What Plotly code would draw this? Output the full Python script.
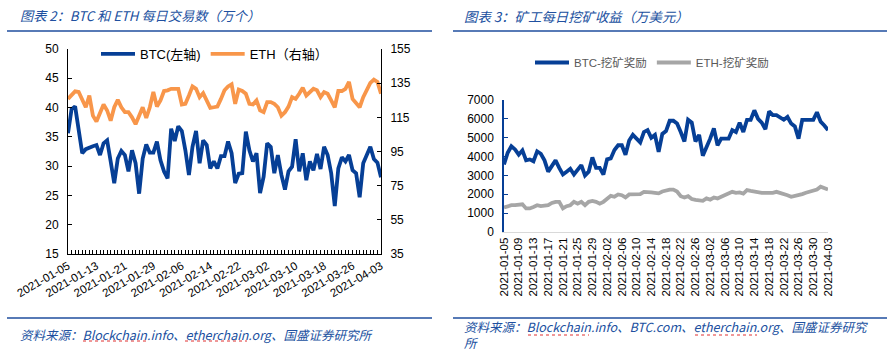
import pandas as pd
import plotly.graph_objects as go

# ---------------- data ----------------
start_date = "2021-01-05"
end_date = "2021-04-03"
dates = pd.date_range(start_date, end_date, freq="D")

btc_tx = [35.6, 39.7, 40.2, 36.4, 32.2, 32.9, 33.2, 33.4, 33.6, 31.9,
          33.9, 34.4, 30.8, 27.1, 31.3, 32.6, 31.9, 29.1, 32.7, 30.5,
          25.3, 31.3, 33.7, 32.3, 32.3, 34.2, 31.0, 29.1, 27.9, 36.4,
          34.3, 36.8, 36.0, 32.7, 28.5, 33.3, 36.0, 30.5, 34.4, 33.6,
          29.6, 30.8, 29.6, 31.7, 31.7, 34.2, 32.2, 27.1, 28.7, 28.8,
          35.9, 32.7, 30.8, 32.2, 25.4, 28.2, 33.9, 33.3, 28.8, 31.9,
          28.5, 26.0, 29.1, 29.9, 34.6, 29.1, 32.2, 27.6, 30.8, 29.3,
          32.1, 29.5, 33.3, 31.9, 28.8, 23.2, 29.6, 31.5, 30.8, 31.9,
          29.3, 28.8, 24.7, 30.5, 31.9, 33.3, 31.2, 30.6, 28.1]

eth_tx = [125.8, 127.8, 130.2, 129.8, 124.9, 120.9, 127.8, 116.0, 112.6, 117.0,
          122.5, 119.0, 113.0, 120.9, 125.2, 120.9, 118.0, 118.0, 115.0, 111.0,
          116.0, 120.9, 114.6, 120.9, 129.8, 121.3, 124.9, 130.4, 130.8, 131.7,
          131.7, 131.7, 122.5, 122.9, 127.8, 133.1, 131.7, 126.8, 129.2, 124.9,
          120.5, 120.9, 121.3, 125.8, 130.8, 133.1, 134.3, 122.9, 131.2, 130.4,
          128.8, 122.9, 122.5, 124.9, 119.0, 118.0, 123.9, 123.9, 122.9, 120.9,
          116.0, 118.0, 121.3, 126.8, 125.8, 128.8, 132.3, 127.8, 129.8, 131.7,
          130.8, 126.8, 129.8, 128.8, 124.9, 120.9, 130.4, 130.4, 131.7, 135.7,
          125.8, 122.9, 120.9, 126.8, 130.4, 135.1, 137.1, 135.7, 128.8]

btc_reward = [3580, 4200, 4550, 4380, 4100, 4330, 3800, 3850, 3750, 4280,
              4150, 3800, 3200, 3550, 3800, 3400, 3050, 3200, 3350, 3050,
              3300, 3550, 3000, 3200, 3950, 3400, 3400, 3050, 3850, 3900,
              4350, 4600, 4600, 4100, 4850, 5150, 4950, 4750, 5300, 5400,
              5000, 5150, 4250, 5200, 5350, 5900, 5900, 5750, 5300, 4800,
              5950, 5800, 4800, 5150, 4050, 4450, 4950, 5500, 4600, 4950,
              4950, 4950, 5400, 5300, 5800, 5300, 5950, 5950, 6450, 6000,
              5800, 5450, 6400, 6200, 6200, 6050, 5950, 6100, 5750, 5600,
              4950, 5950, 5950, 5950, 5950, 6350, 5850, 5650, 5400]

eth_reward = [1300, 1370, 1420, 1420, 1450, 1470, 1250, 1250, 1330, 1420,
              1370, 1420, 1420, 1540, 1600, 1600, 1250, 1370, 1420, 1600,
              1500, 1600, 1420, 1600, 1650, 1600, 1500, 1600, 1780, 1920,
              1870, 1990, 1950, 1830, 1990, 2010, 2010, 2010, 2130, 2130,
              2100, 2080, 2050, 2150, 2220, 2250, 2250, 2150, 1900, 1830,
              1900, 1750, 1700, 1650, 1650, 1780, 1720, 1830, 1780, 1870,
              1950, 2050, 2130, 2080, 2100, 2040, 2220, 2180, 2130, 2080,
              2080, 2080, 2080, 2080, 2130, 2080, 2040, 1950, 1870, 1900,
              1950, 2010, 2080, 2150, 2200, 2250, 2400, 2300, 2250]

title_left = "图表 2：BTC 和 ETH 每日交易数（万个）"
title_right = "图表 3：矿工每日挖矿收益（万美元）"
source_left = "资料来源：Blockchain.info、etherchain.org、国盛证券研究所"
source_right = "资料来源：Blockchain.info、BTC.com、etherchain.org、国盛证券研究<br>所"
names = ["BTC(左轴)", "ETH（右轴）", "BTC-挖矿奖励", "ETH-挖矿奖励"]

# ---------------- styling ----------------
W, H = 894, 359
BLUE = "#063F96"
ORANGE = "#F8964A"
GRAY = "#A6A6A6"
TITLE_BLUE = "#2050A0"
TICK_FONT = dict(family="Liberation Sans, Arial", size=12, color="#000000")
CJK = "Noto Sans CJK SC"
LW = 3.8


def px_x(p):
    return p / W


def px_y(p):
    return 1 - p / H


fig = go.Figure()

fig.add_trace(go.Scatter(x=dates, y=btc_tx, name=names[0], mode="lines",
                         line=dict(color=BLUE, width=LW), xaxis="x", yaxis="y",
                         legend="legend"))
fig.add_trace(go.Scatter(x=dates, y=eth_tx, name=names[1], mode="lines",
                         line=dict(color=ORANGE, width=LW), xaxis="x", yaxis="y2",
                         legend="legend"))
fig.add_trace(go.Scatter(x=dates, y=btc_reward, name=names[2], mode="lines",
                         line=dict(color=BLUE, width=LW), xaxis="x2", yaxis="y3",
                         legend="legend2"))
fig.add_trace(go.Scatter(x=dates, y=eth_reward, name=names[3], mode="lines",
                         line=dict(color=GRAY, width=LW), xaxis="x2", yaxis="y3",
                         legend="legend2"))

day_ms = 86400000
fig.update_layout(
    width=W, height=H,
    margin=dict(l=0, r=0, t=0, b=0),
    paper_bgcolor="white", plot_bgcolor="white",
    font=dict(family="Liberation Sans, " + CJK, color="#000000"),
    xaxis=dict(
        domain=[px_x(68), px_x(381)], anchor="y",
        type="date", range=[dates[0], dates[-1]],
        tick0=start_date, dtick=8 * day_ms, tickformat="%Y-%m-%d",
        tickangle=-30, tickfont=dict(family="Liberation Sans, Arial", size=11.5),
        showline=True, linecolor="#000000", linewidth=1,
        ticks="inside", ticklen=4, tickcolor="#000000",
        minor=dict(dtick=day_ms, tick0=start_date, ticks="inside", ticklen=4,
                   tickcolor="#000000", showgrid=False),
        showgrid=False, zeroline=False, automargin=False,
    ),
    yaxis=dict(
        domain=[px_y(254), px_y(49)], anchor="x",
        range=[15, 50], dtick=5, tick0=15,
        tickfont=TICK_FONT, showline=True, linecolor="#000000", linewidth=1,
        ticks="inside", ticklen=4, tickcolor="#000000",
        showgrid=False, zeroline=False, automargin=False, ticklabelstandoff=6,
    ),
    yaxis2=dict(
        overlaying="y", side="right", anchor="x",
        range=[35, 155], dtick=20, tick0=35,
        tickfont=TICK_FONT, showline=True, linecolor="#000000", linewidth=1,
        ticks="inside", ticklen=4, tickcolor="#000000",
        showgrid=False, zeroline=False, automargin=False, ticklabelstandoff=6,
    ),
    xaxis2=dict(
        domain=[px_x(504), px_x(828)], anchor="y3",
        type="date", range=[dates[0], dates[-1]],
        tick0=start_date, dtick=4 * day_ms, tickformat="%Y-%m-%d",
        tickangle=-90, tickfont=dict(family="Liberation Sans, Arial", size=11.5,
                                     color="#000000"),
        showline=True, linecolor="#D9D9D9", linewidth=1, ticks="",
        showgrid=False, zeroline=False, automargin=False,
    ),
    yaxis3=dict(
        domain=[px_y(232), px_y(100)], anchor="x2",
        range=[0, 7000], dtick=1000,
        tickfont=TICK_FONT, showline=True, linecolor=BLUE, linewidth=1.5,
        ticks="inside", ticklen=4, tickcolor=BLUE,
        showgrid=False, zeroline=False, automargin=False, ticklabelstandoff=6,
    ),
    legend=dict(
        orientation="h", x=px_x(96), y=px_y(39), xanchor="left", yanchor="top",
        font=dict(family="Liberation Sans, " + CJK, size=13, color="#000000"),
        bgcolor="rgba(0,0,0,0)", itemwidth=34, tracegroupgap=0,
    ),
    legend2=dict(
        orientation="h", x=px_x(530), y=px_y(48), xanchor="left", yanchor="top",
        font=dict(family="Liberation Sans, " + CJK, size=11.5, color="#595959"),
        bgcolor="rgba(0,0,0,0)", itemwidth=34,
    ),
    showlegend=True,
)

# Titles, sources
def ann_font(size):
    return dict(family=CJK, size=size, color=TITLE_BLUE, style="italic")


fig.add_annotation(text=title_left, x=px_x(18), y=px_y(16), xref="paper", yref="paper",
                   xanchor="left", yanchor="middle", showarrow=False, font=ann_font(13.2))
fig.add_annotation(text=title_right, x=px_x(462), y=px_y(16), xref="paper", yref="paper",
                   xanchor="left", yanchor="middle", showarrow=False, font=ann_font(13.4))
fig.add_annotation(text=source_left, x=px_x(18), y=px_y(334), xref="paper", yref="paper",
                   xanchor="left", yanchor="middle", showarrow=False, font=ann_font(12.5))
fig.add_annotation(text=source_right, x=px_x(462), y=px_y(334), xref="paper", yref="paper",
                   xanchor="left", yanchor="middle", showarrow=False, font=ann_font(12.5),
                   align="left")

# separator lines
for (x0, x1) in [(7, 432), (453, 887)]:
    for yy in [31, 318]:
        fig.add_shape(type="line", xref="paper", yref="paper",
                      x0=px_x(x0), x1=px_x(x1), y0=px_y(yy), y1=px_y(yy),
                      line=dict(color="#1F4E9E", width=1.5))

# spell-check wavy underlines (decorative)
for (x0, x1, yy) in [(83, 147, 341), (185, 247, 341), (528, 589, 335), (695, 757, 335)]:
    fig.add_shape(type="line", xref="paper", yref="paper",
                  x0=px_x(x0), x1=px_x(x1), y0=px_y(yy), y1=px_y(yy),
                  line=dict(color="#E03030", width=1, dash="dot"))

fig.write_html("out.html", config={"displayModeBar": False},
               post_script="document.body.style.margin='0';document.body.style.overflow='hidden';")
